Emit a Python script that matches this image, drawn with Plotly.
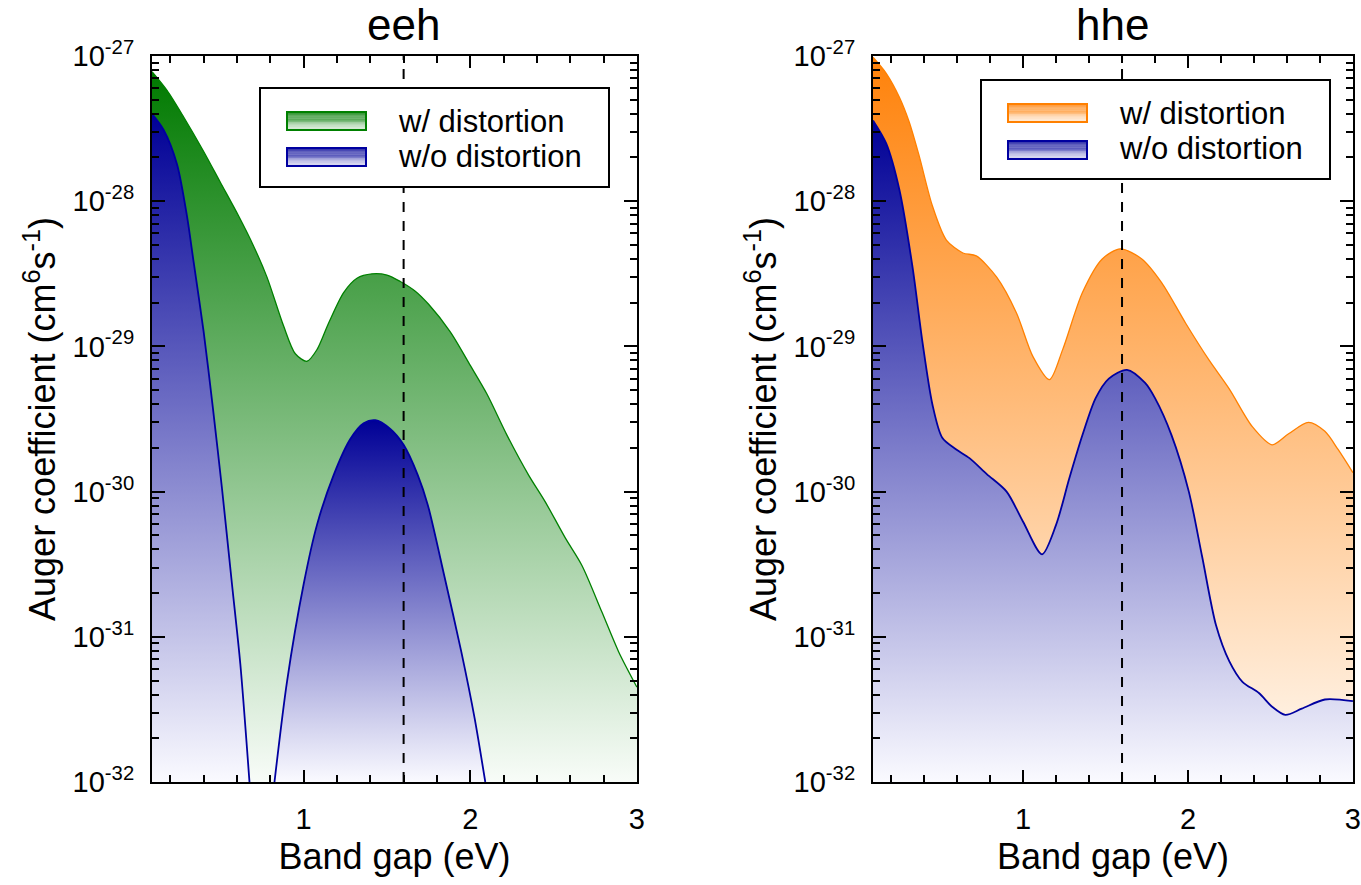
import plotly.graph_objects as go

# ---------------- data ----------------
# eeh panel
eeh_w_x = [0.09, 0.18, 0.28, 0.40, 0.50, 0.61, 0.70, 0.78, 0.88, 0.95, 1.02, 1.08, 1.15, 1.24,
           1.32, 1.41, 1.50, 1.58, 1.67, 1.75, 1.88, 2.00, 2.10, 2.22, 2.35, 2.45, 2.57, 2.67,
           2.79, 2.89, 3.00]
eeh_w_y = [7.8e-28, 5.8e-28, 3.8e-28, 2.2e-28, 1.35e-28, 7.9e-29, 4.9e-29, 3.0e-29, 1.38e-29,
           8.9e-30, 7.9e-30, 9.5e-30, 1.45e-29, 2.35e-29, 2.95e-29, 3.16e-29, 3.1e-29, 2.8e-29,
           2.4e-29, 1.95e-29, 1.26e-29, 7.4e-30, 4.7e-30, 2.45e-30, 1.3e-30, 8.5e-31, 4.8e-31,
           3.1e-31, 1.48e-31, 7.9e-32, 4.5e-32]

eeh_wo_x1 = [0.09, 0.16, 0.24, 0.30, 0.34, 0.40, 0.455, 0.51, 0.57, 0.62, 0.675]
eeh_wo_y1 = [4.0e-28, 3.1e-28, 1.8e-28, 7.9e-29, 3.8e-29, 1.26e-29, 3.8e-30, 1.05e-30,
             2.3e-31, 6.5e-32, 1.0e-32]
eeh_wo_x2 = [0.825, 0.90, 1.00, 1.08, 1.18, 1.28, 1.36, 1.43, 1.52, 1.60, 1.685, 1.745,
             1.845, 1.946, 2.026, 2.09]
eeh_wo_y2 = [1.0e-32, 4.9e-32, 2.3e-31, 5.9e-31, 1.3e-30, 2.3e-30, 2.95e-30, 3.1e-30, 2.7e-30,
             2.1e-30, 1.3e-30, 8.1e-31, 2.6e-31, 7.9e-32, 2.75e-32, 1.0e-32]

# hhe panel
hhe_w_x = [0.09, 0.17, 0.25, 0.31, 0.37, 0.45, 0.535, 0.635, 0.716, 0.84, 0.96, 1.06, 1.16,
           1.24, 1.36, 1.48, 1.59, 1.72, 1.84, 1.985, 2.126, 2.25, 2.39, 2.51, 2.61, 2.73,
           2.83, 2.91, 3.00]
hhe_w_y = [9.8e-28, 7.6e-28, 5.2e-28, 3.5e-28, 2.05e-28, 9.3e-29, 5.4e-29, 4.4e-29, 4.2e-29,
           3.0e-29, 1.7e-29, 8.5e-30, 5.9e-30, 9.5e-30, 2.35e-29, 4.0e-29, 4.7e-29, 4.0e-29,
           2.75e-29, 1.45e-29, 8.1e-30, 5.1e-30, 2.8e-30, 2.1e-30, 2.5e-30, 3.0e-30, 2.6e-30,
           1.95e-30, 1.35e-30]

hhe_wo_x = [0.09, 0.17, 0.25, 0.33, 0.39, 0.45, 0.51, 0.595, 0.675, 0.78, 0.90, 1.00, 1.115,
            1.20, 1.28, 1.36, 1.44, 1.52, 1.63, 1.74, 1.80, 1.90, 2.005, 2.085, 2.17, 2.25,
            2.33, 2.43, 2.51, 2.59, 2.69, 2.83, 3.00]
hhe_wo_y = [3.6e-28, 2.5e-28, 1.2e-28, 3.5e-29, 1.07e-29, 4.0e-30, 2.35e-30, 1.95e-30, 1.7e-30,
            1.32e-30, 1.0e-30, 6.2e-31, 3.7e-31, 5.9e-31, 1.23e-30, 2.45e-30, 4.4e-30, 6.0e-30,
            6.9e-30, 5.6e-30, 4.4e-30, 2.45e-30, 1.0e-30, 3.6e-31, 1.2e-31, 6.8e-32, 4.9e-32,
            4.1e-32, 3.3e-32, 2.9e-32, 3.2e-32, 3.7e-32, 3.6e-32]

panel_titles = ["eeh", "hhe"]
series_names = ["w/ distortion", "w/o distortion"]
y_tick_vals = [1e-32, 1e-31, 1e-30, 1e-29, 1e-28, 1e-27]
y_tick_text = ["10<sup>-32</sup>", "10<sup>-31</sup>", "10<sup>-30</sup>",
               "10<sup>-29</sup>", "10<sup>-28</sup>", "10<sup>-27</sup>"]
x_tick_vals = [1, 2, 3]
x_tick_text = ["1", "2", "3"]
x_vline = 1.6
y_floor = 1e-32

# ---------------- styling ----------------
W, H = 1361, 885
FONT = "Liberation Sans, Arial, sans-serif"
GREEN = (0, 128, 0)
BLUE = (0, 0, 160)
ORANGE = (255, 128, 0)
GREEN_TOP = (0, 122, 0)
BLUE_TOP = (0, 0, 150)
ORANGE_TOP = (255, 130, 10)
GREEN_BOT = (248, 252, 248)
BLUE_BOT = (250, 250, 255)
ORANGE_BOT = (255, 250, 244)


def rgb(c):
    return "rgb(%d,%d,%d)" % c


def mix(a, b, t):
    return tuple(round(a[i] + (b[i] - a[i]) * t) for i in range(3))


fig = go.Figure()


def add_fill(x, y, xa, ya, top, bot, line, lw):
    fig.add_trace(go.Scatter(x=[x[0], x[-1]], y=[y_floor, y_floor], xaxis=xa, yaxis=ya,
                             mode="lines", line=dict(width=0, color="rgba(0,0,0,0)"),
                             showlegend=False, hoverinfo="skip"))
    fig.add_trace(go.Scatter(x=x, y=y, xaxis=xa, yaxis=ya, mode="lines",
                             line=dict(color=rgb(line), width=lw, shape="spline", smoothing=0.8),
                             fill="tonexty",
                             fillgradient=dict(type="vertical",
                                               colorscale=[[0, rgb(bot)], [1, rgb(top)]]),
                             showlegend=False))


add_fill(eeh_w_x, eeh_w_y, "x", "y", GREEN_TOP, GREEN_BOT, GREEN, 1.3)
add_fill(eeh_wo_x1, eeh_wo_y1, "x", "y", BLUE_TOP, BLUE_BOT, BLUE, 1.8)
add_fill(eeh_wo_x2, eeh_wo_y2, "x", "y", BLUE_TOP, BLUE_BOT, BLUE, 1.8)
add_fill(hhe_w_x, hhe_w_y, "x2", "y2", ORANGE_TOP, ORANGE_BOT, ORANGE, 1.3)
add_fill(hhe_wo_x, hhe_wo_y, "x2", "y2", BLUE_TOP, BLUE_BOT, BLUE, 1.8)

# domains (pixel based)
x1d = [152 / W, 637 / W]
x2d = [873 / W, 1353 / W]
yd = [1 - 782 / H, 1 - 56 / H]

xaxis_common = dict(range=[0.09, 3.0005], tickmode="array", tickvals=x_tick_vals,
                    ticktext=x_tick_text, ticks="inside", ticklen=12,
                    tickwidth=2, tickcolor="black", showline=True, linewidth=2,
                    linecolor="black", mirror="allticks", showgrid=False, zeroline=False,
                    automargin=False,
                    tickfont=dict(family=FONT, size=29, color="black"),
                    minor=dict(dtick=0.2, tick0=0, ticks="inside", ticklen=7, tickwidth=1.5,
                               tickcolor="black", showgrid=False),
                    title=dict(text="Band gap (eV)", font=dict(family=FONT, size=36, color="black"),
                               standoff=10),
                    ticklabelstandoff=10)
yaxis_common = dict(type="log", range=[-32, -27], tickvals=y_tick_vals, ticktext=y_tick_text,
                    ticks="inside", ticklen=13, tickwidth=2, tickcolor="black", showline=True,
                    linewidth=2, linecolor="black", mirror="allticks", showgrid=False,
                    zeroline=False, automargin=False,
                    tickfont=dict(family=FONT, size=29, color="black"),
                    minor=dict(dtick="D1", ticks="inside", ticklen=7, tickwidth=1.5,
                               tickcolor="black", showgrid=False),
                    title=dict(text="Auger coefficient (cm<sup>6</sup>s<sup>-1</sup>)",
                               font=dict(family=FONT, size=36, color="black"), standoff=6),
                    ticklabelstandoff=10)

fig.update_layout(
    template="none",
    width=W, height=H, margin=dict(l=0, r=0, t=0, b=0, pad=0), autosize=False,
    paper_bgcolor="white", plot_bgcolor="white", showlegend=False,
    font=dict(family=FONT, color="black"),
    xaxis=dict(domain=x1d, anchor="y", **xaxis_common),
    yaxis=dict(domain=yd, anchor="x", **yaxis_common),
    xaxis2=dict(domain=x2d, anchor="y2", **xaxis_common),
    yaxis2=dict(domain=yd, anchor="x2", **yaxis_common),
)

shapes = []
annotations = []
# dashed vertical lines
for xr, yr in (("x", "y domain"), ("x2", "y2 domain")):
    shapes.append(dict(type="line", xref=xr, yref=yr, x0=x_vline, x1=x_vline, y0=0, y1=1,
                       line=dict(color="black", width=2, dash="10px,9px"), layer="above"))


def px(x):
    return x / W


def py(y):
    return 1 - y / H


def legend(box, sw_x, sw_y, text_x, text_y, tops, bots, lines):
    shapes.append(dict(type="rect", xref="paper", yref="paper", x0=px(box[0]), x1=px(box[2]),
                       y0=py(box[3]), y1=py(box[1]), fillcolor="white",
                       line=dict(color="black", width=2), layer="above"))
    for i in range(2):
        y0, y1 = sw_y[i]
        n = 16
        h = (y1 - y0) / n
        for k in range(n):
            c = mix(tops[i], bots[i], k / (n - 1) * 0.92)
            shapes.append(dict(type="rect", xref="paper", yref="paper", x0=px(sw_x[0]),
                               x1=px(sw_x[1]), y0=py(y0 + (k + 1) * h), y1=py(y0 + k * h),
                               fillcolor=rgb(c), line=dict(width=0), layer="above"))
        shapes.append(dict(type="rect", xref="paper", yref="paper", x0=px(sw_x[0]),
                           x1=px(sw_x[1]), y0=py(y1), y1=py(y0), fillcolor="rgba(0,0,0,0)",
                           line=dict(color=rgb(lines[i]), width=2), layer="above"))
        annotations.append(dict(xref="paper", yref="paper", x=px(text_x), y=py(text_y[i]),
                                text=series_names[i], showarrow=False, xanchor="left",
                                yanchor="middle",
                                font=dict(family=FONT, size=31, color="black")))


legend((260, 88, 609, 187), (287, 366), [(112, 130), (148, 166)], 396, [121, 157],
       [GREEN_TOP, BLUE_TOP], [GREEN_BOT, BLUE_BOT], [GREEN, BLUE])
legend((981, 80, 1330, 179), (1008, 1087), [(104, 122), (141, 159)], 1117, [113, 149],
       [ORANGE_TOP, BLUE_TOP], [ORANGE_BOT, BLUE_BOT], [ORANGE, BLUE])

for i, cx in enumerate([403, 1112]):
    annotations.append(dict(xref="paper", yref="paper", x=px(cx), y=py(24), text=panel_titles[i],
                            showarrow=False, xanchor="center", yanchor="middle",
                            font=dict(family=FONT, size=44, color="black")))

fig.update_layout(shapes=shapes, annotations=annotations)
fig.write_html("out.html")
